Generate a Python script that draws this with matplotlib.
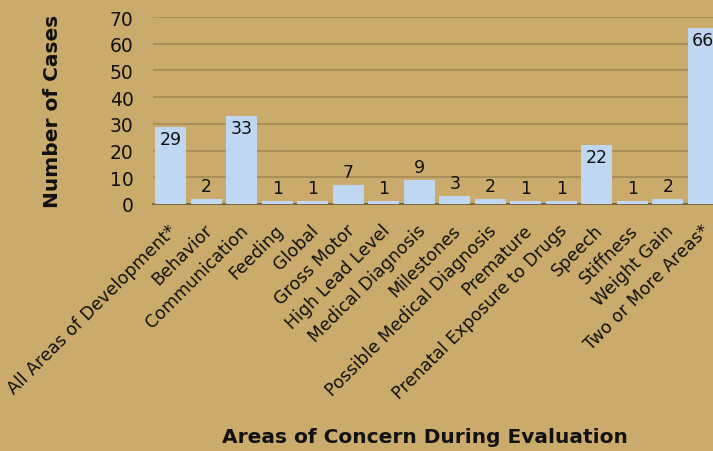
import matplotlib.pyplot as plt
from matplotlib.transforms import ScaledTranslation

plt.rcParams['font.family'] = ['DejaVu Sans']

categories = [
    "All Areas of Development*", "Behavior", "Communication", "Feeding",
    "Global", "Gross Motor", "High Lead Level", "Medical Diagnosis",
    "Milestones", "Possible Medical Diagnosis", "Premature",
    "Prenatal Exposure to Drugs", "Speech", "Stiffness", "Weight Gain",
    "Two or More Areas*",
]
cases = [29, 2, 33, 1, 1, 7, 1, 9, 3, 2, 1, 1, 22, 1, 2, 66]
y_ticks = [0, 10, 20, 30, 40, 50, 60, 70]

BG = "#cbab6b"
BAR = "#bfd7f2"
GRID = "#a48a56"

fig = plt.figure(figsize=(7.13, 4.52), dpi=100, facecolor=BG)
# axes run slightly past the right edge, so the last bar is cut off
ax = fig.add_axes([153 / 713, 247 / 452, 568 / 713, 187 / 452])
ax.set_facecolor(BG)

x = range(len(categories))
bars = ax.bar(x, cases, width=0.87, color=BAR, zorder=3)

for rect, v in zip(bars, cases):
    cx = rect.get_x() + rect.get_width() / 2
    if v >= 15:
        ax.text(cx, v - 1.2, str(v), ha="center", va="top", fontsize=12.5,
                color="#111111", zorder=4)
    else:
        ax.text(cx, v + 1.5, str(v), ha="center", va="bottom", fontsize=12.5,
                color="#111111", zorder=4)

ax.set_xlim(-0.5, len(categories) - 0.5)
ax.set_ylim(0, 70)
ax.set_yticks(y_ticks)
ax.set_yticklabels([str(t) for t in y_ticks], fontsize=13.5, color="#111111")
ax.yaxis.grid(True, color=GRID, linewidth=1.2, zorder=0)
ax.set_axisbelow(True)
ax.tick_params(axis="y", length=0, pad=14)
ax.tick_params(axis="x", length=0, pad=12)

ax.set_xticks(list(x))
ax.set_xticklabels(categories, rotation=45, ha="right",
                   rotation_mode="anchor", fontsize=12.5, color="#111111")
# nudge the slanted labels a little to the left
shift = ScaledTranslation(-3 / 100, 0, fig.dpi_scale_trans)
for lbl in ax.get_xticklabels():
    lbl.set_transform(lbl.get_transform() + shift)

for side in ("top", "right", "left"):
    ax.spines[side].set_visible(False)
ax.spines["bottom"].set_color("#6f5c35")
ax.spines["bottom"].set_linewidth(1.2)

ax.set_ylabel("Number of Cases", fontsize=14.5, fontweight="bold",
              color="#111111", labelpad=34)
fig.text(425 / 713, 1 - 438 / 452, "Areas of Concern During Evaluation",
         ha="center", va="center", fontsize=14.5, fontweight="bold",
         color="#111111")

fig.savefig("out.png", dpi=100, facecolor=BG)
